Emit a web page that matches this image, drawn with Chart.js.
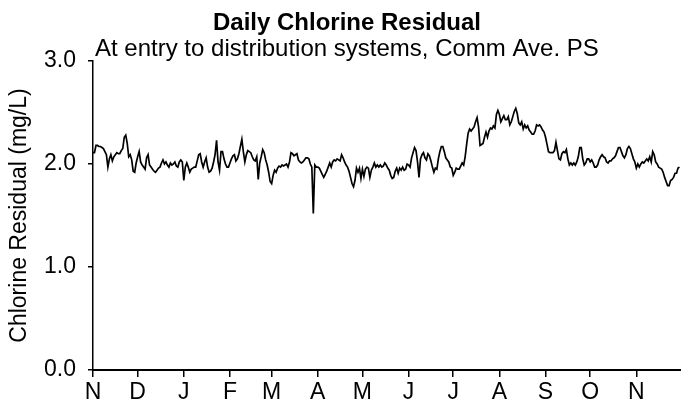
<!DOCTYPE html>
<html>
<head>
<meta charset="utf-8">
<script src="https://cdn.jsdelivr.net/npm/chart.js@4.4.1/dist/chart.umd.min.js"></script>
<style>
  html, body { margin: 0; padding: 0; background: #fff; }
</style>
</head>
<body>
<canvas id="chlorineChart" width="681" height="411"></canvas>
<script>
const chartTitle = "Daily Chlorine Residual";
const chartSubtitle = "At entry to distribution systems, Comm Ave. PS";
const yAxisTitle = "Chlorine Residual (mg/L)";

const monthLabels = ["N", "D", "J", "F", "M", "A", "M", "J", "J", "A", "S", "O", "N"];
const monthStartDays = [0, 30, 61, 92, 120, 151, 181, 212, 242, 273, 304, 334, 365];
const yTicks = [0, 1, 2, 3];

// daily residual (mg/L), one array per month
const nov = [2.11, 2.11, 2.18, 2.18, 2.17, 2.17, 2.16, 2.15, 2.12, 2.09,
  1.97, 2.05, 2.09, 2.03, 2.07, 2.09, 2.11, 2.10, 2.10, 2.13,
  2.15, 2.26, 2.28, 2.20, 2.07, 2.09, 2.04, 1.93, 1.92, 2.01];
const dec = [2.07, 2.12, 2.02, 1.99, 1.97, 1.95, 2.06, 2.09, 1.99, 1.97,
  1.95, 1.93, 1.92, 1.94, 1.96, 1.97, 2.01, 2.04, 2.00, 2.02,
  1.99, 1.97, 2.01, 1.99, 2.00, 2.02, 1.98, 1.97, 2.02, 2.04, 2.02];
const jan = [1.84, 1.97, 2.01, 1.97, 1.92, 1.95, 1.96, 1.97, 1.97, 2.03,
  2.09, 2.10, 2.02, 1.97, 2.02, 2.06, 1.97, 1.92, 1.93, 1.96,
  2.02, 2.09, 2.23, 2.02, 1.94, 2.12, 2.12, 2.05, 2.00, 1.97, 1.97];
const feb = [2.01, 2.05, 2.08, 2.09, 2.03, 2.05, 2.10, 2.17, 2.24, 2.12,
  2.02, 2.09, 2.13, 2.12, 2.11, 2.07, 2.04, 2.03, 2.07, 1.85,
  2.01, 2.07, 2.14, 2.11, 2.04, 1.99, 1.92, 1.83];
const mar = [1.81, 1.89, 1.94, 1.92, 1.96, 1.98, 1.97, 1.99, 1.98, 1.99,
  2.00, 1.97, 2.02, 2.11, 2.10, 2.08, 2.09, 2.10, 2.04, 2.02,
  2.01, 2.02, 2.04, 2.06, 2.06, 2.05, 2.00, 1.97, 1.52, 1.99, 1.97];
const apr = [1.97, 1.96, 1.93, 1.90, 1.87, 1.90, 1.93, 1.97, 2.01, 1.97,
  2.02, 2.04, 2.03, 2.05, 2.04, 2.03, 2.09, 2.06, 2.02, 1.99,
  1.97, 1.93, 1.87, 1.81, 1.78, 1.84, 1.96, 1.92, 1.96, 1.86];
const may = [1.95, 1.88, 1.95, 1.97, 1.96, 1.87, 1.94, 1.97, 2.01, 1.97,
  1.99, 1.97, 1.99, 1.97, 1.98, 2.01, 1.99, 1.96, 1.94, 1.89,
  1.86, 1.87, 1.93, 1.96, 1.91, 1.96, 1.94, 1.97, 1.94, 1.95, 2.00];
const jun = [1.99, 1.97, 2.06, 2.11, 2.16, 2.13, 2.02, 1.87, 2.05, 2.09,
  2.11, 2.06, 2.04, 2.10, 2.08, 2.03, 1.97, 1.92, 1.96, 1.95,
  2.05, 2.12, 2.17, 2.17, 2.12, 2.06, 2.04, 2.02, 1.97, 1.96];
const jul = [1.89, 1.92, 1.96, 1.95, 1.95, 1.98, 2.01, 1.99, 2.07, 2.19,
  2.30, 2.34, 2.32, 2.34, 2.36, 2.41, 2.45, 2.36, 2.18, 2.19,
  2.20, 2.26, 2.31, 2.26, 2.32, 2.35, 2.34, 2.37, 2.35, 2.48, 2.52];
const aug = [2.48, 2.41, 2.44, 2.47, 2.43, 2.43, 2.46, 2.38, 2.41, 2.46,
  2.51, 2.54, 2.49, 2.40, 2.38, 2.41, 2.34, 2.38, 2.35, 2.37,
  2.33, 2.31, 2.29, 2.29, 2.32, 2.38, 2.37, 2.38, 2.36, 2.33, 2.31];
const sep = [2.26, 2.19, 2.12, 2.11, 2.11, 2.11, 2.13, 2.21, 2.13, 2.05,
  2.04, 2.10, 2.12, 2.11, 2.14, 2.05, 1.99, 2.01, 1.99, 2.01,
  1.99, 2.02, 2.07, 2.16, 2.16, 2.05, 1.99, 2.01, 2.05, 2.05];
const oct = [2.02, 2.04, 2.01, 1.97, 1.97, 1.99, 2.04, 2.07, 2.09, 2.07,
  2.06, 2.02, 2.01, 2.03, 2.03, 2.05, 2.06, 2.08, 2.12, 2.16,
  2.16, 2.12, 2.08, 2.06, 2.09, 2.15, 2.17, 2.15, 2.10, 2.05, 2.02];
const nov2 = [1.96, 2.00, 1.97, 2.00, 2.02, 2.01, 2.03, 2.05, 2.03, 2.07,
  2.02, 2.12, 2.09, 2.02, 2.00, 1.97, 1.96, 1.95, 1.92, 1.87,
  1.83, 1.79, 1.79, 1.84, 1.85, 1.87, 1.91, 1.91, 1.96, 1.97];

const chlorine = [].concat(nov, dec, jan, feb, mar, apr, may, jun, jul, aug, sep, oct, nov2);

const FONT = "'Liberation Sans', Arial, sans-serif";
Chart.defaults.font.family = FONT;
Chart.defaults.color = "#000";

// title + subtitle sit over the top of the plot like in the original
const headerText = {
  id: "headerText",
  afterDraw(chart) {
    const ctx = chart.ctx;
    ctx.save();
    ctx.fillStyle = "#000";
    ctx.textBaseline = "alphabetic";
    ctx.font = "bold 24px " + FONT;
    ctx.textAlign = "center";
    ctx.fillText(chartTitle, 347, 30);
    ctx.font = "24px " + FONT;
    ctx.textAlign = "left";
    ctx.fillText(chartSubtitle, 95, 56);
    ctx.restore();
  }
};

new Chart(document.getElementById("chlorineChart"), {
  type: "line",
  data: {
    datasets: [{
      data: chlorine.map((v, i) => ({ x: i, y: v })),
      borderColor: "#000",
      borderWidth: 1.7,
      pointRadius: 0,
      tension: 0,
      fill: false
    }]
  },
  options: {
    responsive: false,
    animation: false,
    layout: { padding: { top: 61, right: 0, bottom: 0, left: 0 } },
    plugins: {
      legend: { display: false },
      tooltip: { enabled: false }
    },
    scales: {
      x: {
        type: "linear",
        min: 0,
        max: 395,
        afterBuildTicks: (scale) => { scale.ticks = monthStartDays.map((v) => ({ value: v })); },
        afterFit: (scale) => { scale.height = 41; },
        ticks: {
          autoSkip: false,
          maxRotation: 0,
          padding: 2,
          font: { size: 23 },
          callback: (value, index) => monthLabels[index]
        },
        grid: { drawOnChartArea: false, tickLength: 7, color: "#000", lineWidth: 1.5 },
        border: { color: "#000", width: 2 }
      },
      y: {
        min: 0,
        max: 3,
        afterBuildTicks: (scale) => { scale.ticks = yTicks.map((v) => ({ value: v })); },
        afterFit: (scale) => { scale.width = 93; },
        ticks: {
          padding: 12,
          font: { size: 23 },
          callback: (value) => value.toFixed(1)
        },
        grid: { drawOnChartArea: false, tickLength: 5, color: "#000", lineWidth: 1.5 },
        border: { color: "#000", width: 1.5 },
        title: {
          display: true,
          text: yAxisTitle,
          font: { size: 23 },
          padding: { top: 6, bottom: 0 }
        }
      }
    }
  },
  plugins: [headerText]
});
</script>
</body>
</html>
